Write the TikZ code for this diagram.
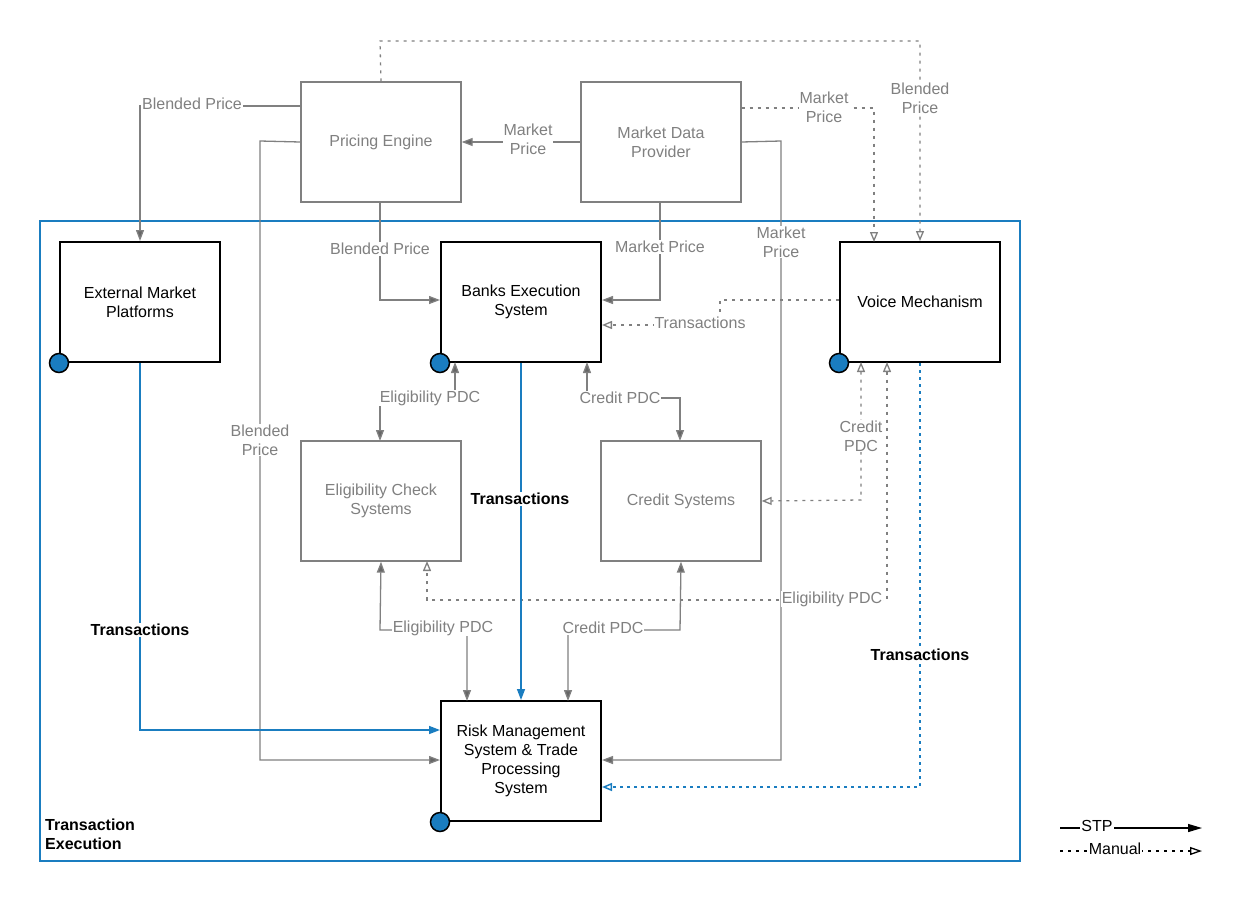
\documentclass[tikz,border=0pt]{standalone}
\usepackage{fontspec}
\setmainfont{Liberation Sans}
\usetikzlibrary{arrows.meta}
\definecolor{lg}{HTML}{808080}
\definecolor{ag}{HTML}{666666}
\definecolor{bl}{HTML}{1A7DC0}
\begin{document}
\begin{tikzpicture}[x=1pt,y=-1pt,
  every node/.style={font=\fontsize{16}{19}\selectfont},
  gbox/.style={draw=lg,line width=1.3pt,minimum width=160pt,minimum height=120pt,align=center,text=lg},
  kbox/.style={draw=black,line width=2pt,minimum width=160pt,minimum height=120pt,align=center},
  dot/.style={circle,draw=black,line width=1.5pt,fill=bl,minimum size=19pt,inner sep=0},
  lab/.style={fill=white,text=lg,inner sep=1pt,align=center},
  tlab/.style={fill=white,font=\fontsize{16}{19}\selectfont\bfseries,inner sep=1pt,align=center},
  stp/.style={draw=lg,line width=1.3pt,-{Triangle[width=8pt,length=11pt,fill=ag]},color=lg},
  stp2/.style={stp,{Triangle[width=8pt,length=11pt,fill=ag]}-{Triangle[width=8pt,length=11pt,fill=ag]}},
  man/.style={draw=lg,line width=1.3pt,dash pattern=on 3pt off 5pt,-{Triangle[open,width=8pt,length=10pt]}},
  man2/.style={man,{Triangle[open,width=8pt,length=10pt]}-{Triangle[open,width=8pt,length=10pt]}},
  bstp/.style={draw=bl,line width=1.5pt,-{Triangle[width=8pt,length=11pt,fill=bl]}},
  bman/.style={draw=bl,line width=1.5pt,dash pattern=on 3pt off 4pt,-{Triangle[open,width=8pt,length=10pt]}},
]
\useasboundingbox (0,0) rectangle (1244,908);
\node[draw=bl,line width=1.3pt,minimum width=980pt,minimum height=640pt,inner sep=0] (cont) at (530,541) {};
\node[tlab,fill=none,align=left,anchor=north west] (ctl) at (44,818) {Transaction\\Execution};

\node[gbox] (pe) at (381,142) {Pricing Engine};
\node[gbox] (md) at (661,142) {Market Data\\Provider};
\node[kbox] (emp) at (140,302) {External Market\\Platforms};
\node[kbox] (bes) at (521,302) {Banks Execution\\System};
\node[kbox] (vm) at (920,302) {Voice Mechanism};
\node[gbox] (ec) at (381,501) {Eligibility Check\\Systems};
\node[gbox] (cs) at (681,501) {Credit Systems};
\node[kbox] (rms) at (521,761) {Risk Management\\System \& Trade\\Processing\\System};

\coordinate (c7) at (380,41); \coordinate (c7b) at (920,41);
% solid gray
\draw[stp] (pe.west |- 0,106) -- (140,106) -- (emp.north);
\node[lab] at (192,104) {Blended Price};
\draw[stp] (md.west) -- (pe.east);
\node[lab] at (528,139) {Market\\Price};
\draw[stp] (380,202) -- (380,300) -- (bes.west |- 0,300);
\node[lab] at (380,249) {Blended Price};
\draw[stp] (660,202) -- (660,300) -- (bes.east |- 0,300);
\node[lab] at (660,247) {Market Price};
\draw[stp] (pe.west) -- (260,141) -- (260,760) -- (rms.west |- 0,760);
\node[lab] at (260,440) {Blended\\Price};
\draw[stp] (md.east) -- (781,141) -- (781,760) -- (rms.east |- 0,760);
\node[lab] at (781,242) {Market\\Price};
\draw[stp2] (455,362) -- (455,398) -- (380,398) -- (380,441);
\node[lab] at (430,398) {Eligibility PDC};
\draw[stp2] (587,362) -- (587,398) -- (680,398) -- (680,441);
\node[lab] at (620,398) {Credit PDC};
% manual gray
\draw[man] (pe.north) -- (c7) -- (c7b) -- (vm.north);
\node[lab] at (920,98) {Blended\\Price};
\draw[man] (md.east |- 0,108) -- (874,108) -- (874,242);
\node[lab] at (824,107) {Market\\Price};
\draw[man] (vm.west |- 0,300) -- (720,300) -- (720,325) -- (bes.east |- 0,325);
\node[lab] at (700,323) {Transactions};
\draw[man2] (861,362) -- (861,500) -- (cs.east);
\node[lab] at (861,436) {Credit\\PDC};
\draw[man2] (887,362) -- (887,600) -- (427,600) -- (427,561);
\node[lab] at (832,599) {Eligibility PDC};
\draw[stp2] (ec.south) -- (380,630) -- (467,630) -- (467,701);
\node[lab] at (443,628) {Eligibility PDC};
\draw[stp2] (cs.south) -- (680,630) -- (568,630) -- (568,701);
\node[lab] at (603,628) {Credit PDC};
% blue
\draw[bstp] (bes.south) -- (rms.north);
\node[tlab] at (520,499) {Transactions};
\draw[bstp] (emp.south) -- (140,730) -- (rms.west |- 0,730);
\node[tlab] at (140,630) {Transactions};
\draw[bman] (vm.south) -- (920,787) -- (rms.east |- 0,787);
\node[tlab] at (920,655) {Transactions};
% dots
\node[dot] at (emp.south west) {};
\node[dot] at (bes.south west) {};
\node[dot] at (vm.south west) {};
\node[dot] at (rms.south west) {};
% legend
\coordinate (l1a) at (1060,828); \coordinate (l1b) at (1202,828);
\coordinate (l2a) at (1060,851); \coordinate (l2b) at (1202,851);
\draw[line width=1.3pt,-{Triangle[width=8pt,length=14pt]}] (l1a) -- (l1b);
\node[fill=white,inner sep=1pt] at (1097,826) {STP};
\draw[line width=1.3pt,dash pattern=on 3pt off 5pt,-{Triangle[open,width=8pt,length=12pt]}] (l2a) -- (l2b);
\node[fill=white,inner sep=1pt] at (1115,849) {Manual};
\end{tikzpicture}
\end{document}
